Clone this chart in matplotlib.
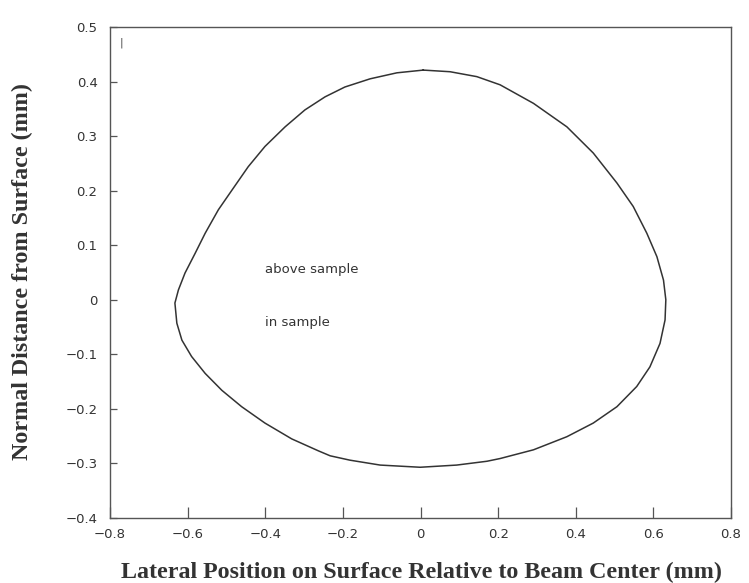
import matplotlib
matplotlib.use("Agg")
import matplotlib.pyplot as plt

# boundary of the melt region, traced clockwise from the top
bound_x = [0.007, 0.076, 0.145, 0.205, 0.291, 0.377, 0.445, 0.506, 0.548, 0.583, 0.609,
           0.626, 0.632, 0.630, 0.617, 0.591, 0.557, 0.506, 0.445, 0.377, 0.291, 0.205,
           0.171, 0.093, -0.001, -0.104, -0.182, -0.233, -0.263, -0.332, -0.401, -0.461,
           -0.512, -0.555, -0.590, -0.615, -0.628, -0.633, -0.624, -0.607, -0.581, -0.555,
           -0.521, -0.486, -0.444, -0.401, -0.349, -0.298, -0.246, -0.195, -0.130, -0.061,
           0.007]
bound_y = [0.421, 0.418, 0.409, 0.394, 0.360, 0.317, 0.269, 0.214, 0.171, 0.122, 0.079,
           0.036, 0.000, -0.037, -0.080, -0.123, -0.159, -0.196, -0.226, -0.251, -0.275, -0.291,
           -0.296, -0.303, -0.307, -0.303, -0.294, -0.286, -0.277, -0.255, -0.226, -0.196,
           -0.166, -0.135, -0.104, -0.074, -0.043, -0.006, 0.018, 0.049, 0.085, 0.122,
           0.165, 0.201, 0.244, 0.281, 0.317, 0.348, 0.372, 0.390, 0.405, 0.416,
           0.421]

xticks = [-0.8, -0.6, -0.4, -0.2, 0, 0.2, 0.4, 0.6, 0.8]
yticks = [-0.4, -0.3, -0.2, -0.1, 0, 0.1, 0.2, 0.3, 0.4, 0.5]

ink = "#333333"

fig = plt.figure(figsize=(7.49, 5.83), dpi=100)
ax = fig.add_axes([0.147, 0.1115, 0.829, 0.8422])

ax.plot(bound_x, bound_y, color=ink, lw=1.1)

ax.set_xlim(-0.8, 0.8)
ax.set_ylim(-0.4, 0.5)
ax.set_xticks(xticks)
ax.set_yticks(yticks)
ax.set_xticklabels([f"{t:g}".replace("-", "\u2212") for t in xticks],
                   fontfamily="DejaVu Sans", fontsize=9.5, color=ink)
ax.set_yticklabels([f"{t:g}".replace("-", "\u2212") for t in yticks],
                   fontfamily="DejaVu Sans", fontsize=9.5, color=ink)
ax.tick_params(axis="x", direction="in", length=8, width=0.9, color="#555555", pad=7)
ax.tick_params(axis="y", direction="in", length=5, width=0.9, color="#555555", pad=9)
for s in ax.spines.values():
    s.set_color("#555555")
    s.set_linewidth(1.0)

ax.text(-0.40, 0.055, "above sample", fontsize=9.5, fontfamily="DejaVu Sans",
        color=ink, va="center")
ax.text(-0.40, -0.042, "in sample", fontsize=9.5, fontfamily="DejaVu Sans",
        color=ink, va="center")
ax.text(-0.772, 0.472, "|", fontsize=8, color="#444444", ha="center", va="center")

# axis titles placed in figure coordinates
fig.text(421 / 749, 1 - 572 / 583,
         "Lateral Position on Surface Relative to Beam Center (mm)",
         fontfamily="Liberation Serif", fontweight="bold", fontsize=17.3,
         color=ink, ha="center", va="center")
fig.text(22 / 749, 1 - 272 / 583, "Normal Distance from Surface (mm)",
         fontfamily="Liberation Serif", fontweight="bold", fontsize=17.3,
         color=ink, ha="center", va="center", rotation=90)

fig.savefig("out.png", dpi=100)
